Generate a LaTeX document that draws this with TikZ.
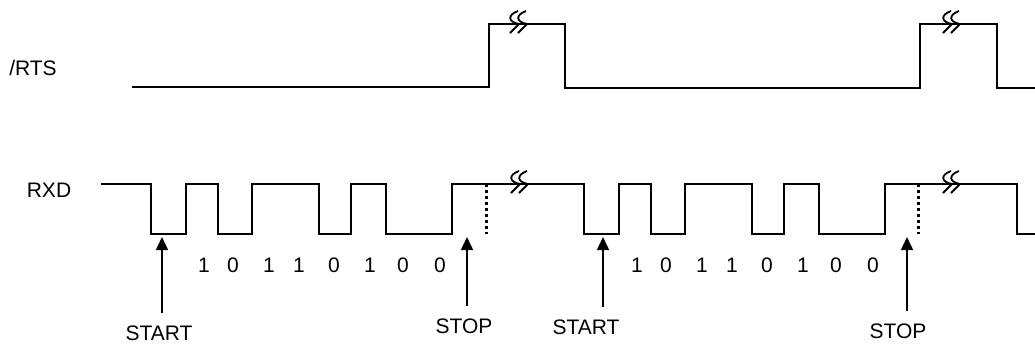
\documentclass[tikz,border=0pt]{standalone}
\usepackage{fontspec}
\setmainfont{Liberation Sans}
\usetikzlibrary{arrows.meta}

\tikzset{
  sig/.style={line width=1pt, line join=miter},
  brk/.style={line width=0.9pt},
  tick/.style={line width=1.5pt, dash pattern=on 1.6pt off 1.4pt},
  sigarrow/.style={line width=0.8pt, -{Triangle[length=6.5pt,width=6pt]}, shorten <=6pt},
  lbl/.style={inner sep=0pt, font=\fontsize{10.5}{12}\selectfont},
}
% break mark on a signal line
\newcommand{\brkmark}[1]{%
  \begin{scope}[shift={(#1)}]
    \foreach \o in {-5,3}
      \draw[brk] (\o+4,-13) .. controls (\o-7,-9) and (\o-6,-2) .. (\o+5,0)
                 .. controls (\o+1,4) .. (\o-4,9);
  \end{scope}
}

\begin{document}
\begin{tikzpicture}[x=0.5pt, y=-0.5pt]
    \useasboundingbox (0,0) rectangle (1035,345);

    % signal names
    \node[lbl] (rts) at (33,68) {/RTS};
    \node[lbl] (rxd) at (49,190) {RXD};

    % /RTS
    \draw[sig] (132,87) -- (489,87) -- (489,24) -- (565,24) -- (565,88)
               -- (920,88) -- (920,24) -- (997,24) -- (997,88) -- (1035,88);
    \brkmark{519,24}
    \brkmark{952,24}

    % RXD, two frames 1 0 1 1 0 1 0 0
    \draw[sig] (101,184) \foreach \s in {151,584} {
            -- (\s,184) -- (\s,234) -- (\s+35,234) -- (\s+35,184)
            -- (\s+67,184) -- (\s+67,234) -- (\s+101,234) -- (\s+101,184)
            -- (\s+168,184) -- (\s+168,234) -- (\s+200,234) -- (\s+200,184)
            -- (\s+235,184) -- (\s+235,234) -- (\s+301,234) -- (\s+301,184)}
            -- (1017,184) -- (1017,234) -- (1035,234);
    \brkmark{520,184}
    \brkmark{952,184}
    \draw[tick] (486,184) -- (486,234);
    \draw[tick] (918,184) -- (918,234);

    % data bits
    \foreach \s in {151,584}
      \foreach \b/\o in {1/53,0/82,1/118,1/148,0/183,1/219,0/252,0/289}
        \node[lbl] (bit-\s-\o) at (\s+\o,265) {\b};

    % start and stop marks
    \coordinate (tstart1) at (162,237);
    \coordinate (tstop1) at (467,237);
    \coordinate (tstart2) at (603,237);
    \coordinate (tstop2) at (907,237);
    \node[lbl] (start1) at (159,333) {START};
    \node[lbl] (stop1) at (464,326) {STOP};
    \node[lbl] (start2) at (586,327) {START};
    \node[lbl] (stop2) at (898,331) {STOP};
    \draw[sigarrow] (start1.north -| tstart1) -- (tstart1);
    \draw[sigarrow] (stop1.north -| tstop1) -- (tstop1);
    \draw[sigarrow] (start2.north -| tstart2) -- (tstart2);
    \draw[sigarrow] (stop2.north -| tstop2) -- (tstop2);
\end{tikzpicture}
\end{document}
